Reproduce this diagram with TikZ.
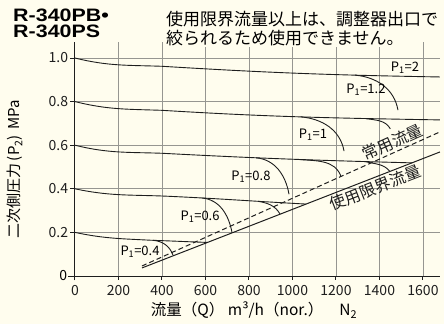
\documentclass[tikz,border=0pt]{standalone}
\usepackage{fontspec}
\setmainfont{Noto Sans CJK JP}
\newfontfamily\modelfont{Liberation Sans}
\definecolor{paper}{RGB}{255,253,238}
\definecolor{gridgray}{RGB}{150,150,145}
\definecolor{ink}{RGB}{30,30,30}

\begin{document}
\begin{tikzpicture}[x=21.75pt, y=21.8pt,
    gridline/.style={gridgray, line width=0.7pt},
    axisline/.style={ink, line width=1pt},
    curve/.style={ink, line width=0.9pt},
    limitline/.style={ink, line width=1pt},
    plabel/.style={font=\fontsize{13}{13}\selectfont, inner sep=1pt},
    ticklabel/.style={font=\fontsize{14}{14}\selectfont, inner sep=1pt},
    jptext/.style={font=\fontsize{16}{16}\selectfont, inner sep=1pt}]
  \fill[paper] (-3.448,-2.202) rectangle (16.966,12.661);
  \useasboundingbox (-3.448,-2.202) rectangle (16.966,12.661);

  % grid
  \foreach \x in {2,4,...,16}
    \draw[gridline] (\x,0)--(\x,10.75);
  \foreach \y in {2,4,...,10}
    \draw[gridline] (0,\y)--(16.8,\y);

  % axes and ticks
  \draw[axisline] (-0.3,0)--(16.8,0);
  \draw[axisline] (0,-0.2)--(0,10.75);
  \foreach \y/\ytext in {2/0.2, 4/0.4, 6/0.6, 8/0.8, 10/1.0}
    \draw[axisline](0,\y)--(-0.25,\y) node[ticklabel, left] (ytick\y) {\ytext};
  \node[ticklabel, left] (ytick0) at (-0.3,0) {0};
  \foreach \x/\xtext in {0/0, 2/200, 4/400, 6/600, 8/800, 10/1000, 12/1200, 14/1400, 16/1600}
    \draw[axisline](\x,0)--(\x,-0.2) node[ticklabel, below=3pt] (xtick\x) {\xtext};

  % outlet pressure curves
  \draw[curve] (0,10) to[out=-14,in=178] (4,9.62)
    to[out=-3.5,in=179] node[coordinate, pos=0.71] (k10a) {} (16.78,9.13);
  \draw[curve] (0,8) to[out=-14,in=178] (4,7.6)
    to[out=-3.5,in=179] node[coordinate, pos=0.5] (k08a) {}
    node[coordinate, pos=0.75] (k08b) {} (16.78,7.16);
  \draw[curve] (0,6) to[out=-14,in=178] (4,5.63)
    to[out=-3,in=178.5] node[coordinate, pos=0.365] (k06a) {}
    node[coordinate, pos=0.55] (k06b) {} node[coordinate, pos=0.83] (k06c) {} (15.5,5.19);
  \draw[curve] (0,4) to[out=-12,in=178] (4,3.67)
    to[out=-2.5,in=177] node[coordinate, pos=0.26] (k04a) {}
    node[coordinate, pos=0.68] (k04b) {} (10.63,3.30);
  \draw[curve] (0,2) to[out=-12,in=177] (3.5,1.64)
    to[out=-2,in=178] node[coordinate, pos=0.03] (k02a) {} (6.09,1.54);

  % drop at each inlet pressure
  \draw[curve] (k10a) to[out=-5,in=100] (14.85,7.61);
  \draw[curve] (k08a) to[out=-5,in=100] (12.37,5.73);
  \draw[curve] (k08b) to[out=-10,in=120] (14.5,6.75);
  \draw[curve] (k06a) to[out=-5,in=100] (9.84,3.75);
  \draw[curve] (k06b) to[out=-5,in=110] (12.23,4.57);
  \draw[curve] (k06c) to[out=-15,in=130] (14.48,4.80);
  \draw[curve] (k04a) to[out=-5,in=100] (7.22,1.98);
  \draw[curve] (k04b) to[out=-10,in=120] (9.43,2.84);
  \draw[curve] (k02a) to[out=-5,in=110] (4.51,0.95);

  \node[plabel] (p2) at (15.17,9.54) {P\textsubscript{1}=2};
  \node[plabel] (p12) at (13.38,8.53) {P\textsubscript{1}=1.2};
  \node[plabel] (p10) at (10.94,6.47) {P\textsubscript{1}=1};
  \node[plabel] (p08) at (8.09,4.54) {P\textsubscript{1}=0.8};
  \node[plabel] (p06) at (5.75,2.71) {P\textsubscript{1}=0.6};
  \node[plabel] (p04) at (2.99,1.10) {P\textsubscript{1}=0.4};

  % flow limits
  \coordinate (lim0) at (3.08,0.37);
  \coordinate (lim1) at (16.78,5.69);
  \coordinate (nor0) at (3.08,0.46);
  \coordinate (nor1) at (16.78,6.61);
  \draw[limitline] (lim0)--(lim1)
    node[jptext, pos=0.77, sloped, below=1pt] (limtext) {使用限界流量};
  \draw[limitline, dash pattern=on 5pt off 3pt] (nor0)--(nor1)
    node[jptext, pos=0.855, sloped, above=1pt] (nortext) {常用流量};

  % titles
  \node[anchor=west, font=\modelfont\bfseries\fontsize{18}{18}\selectfont, xscale=1.19, inner sep=0pt]
    (model1) at (-2.85,11.97) {R-340PB•};
  \node[anchor=west, font=\modelfont\bfseries\fontsize{18}{18}\selectfont, xscale=1.19, inner sep=0pt]
    (model2) at (-2.85,11.23) {R-340PS};
  \node[anchor=west, font=\fontsize{17}{17}\selectfont, fill=paper, inner sep=1pt]
    (note1) at (4.14,11.8) {使用限界流量以上は、調整器出口で};
  \node[anchor=west, font=\fontsize{17}{17}\selectfont, fill=paper, inner sep=1pt]
    (note2) at (4.14,10.9) {絞られるため使用できません。};
  \node[rotate=90, font=\fontsize{15}{15}\selectfont] (ylabel) at (-2.76,4.9)
    {二次側圧力\,(P\textsubscript{2})\, MPa};
  \node[font=\fontsize{15.5}{15.5}\selectfont] (xlabel) at (8.23,-1.56)
    {流量（Q） m³/h（nor.）\hspace{16pt}N\textsubscript{2}};
\end{tikzpicture}
\end{document}
